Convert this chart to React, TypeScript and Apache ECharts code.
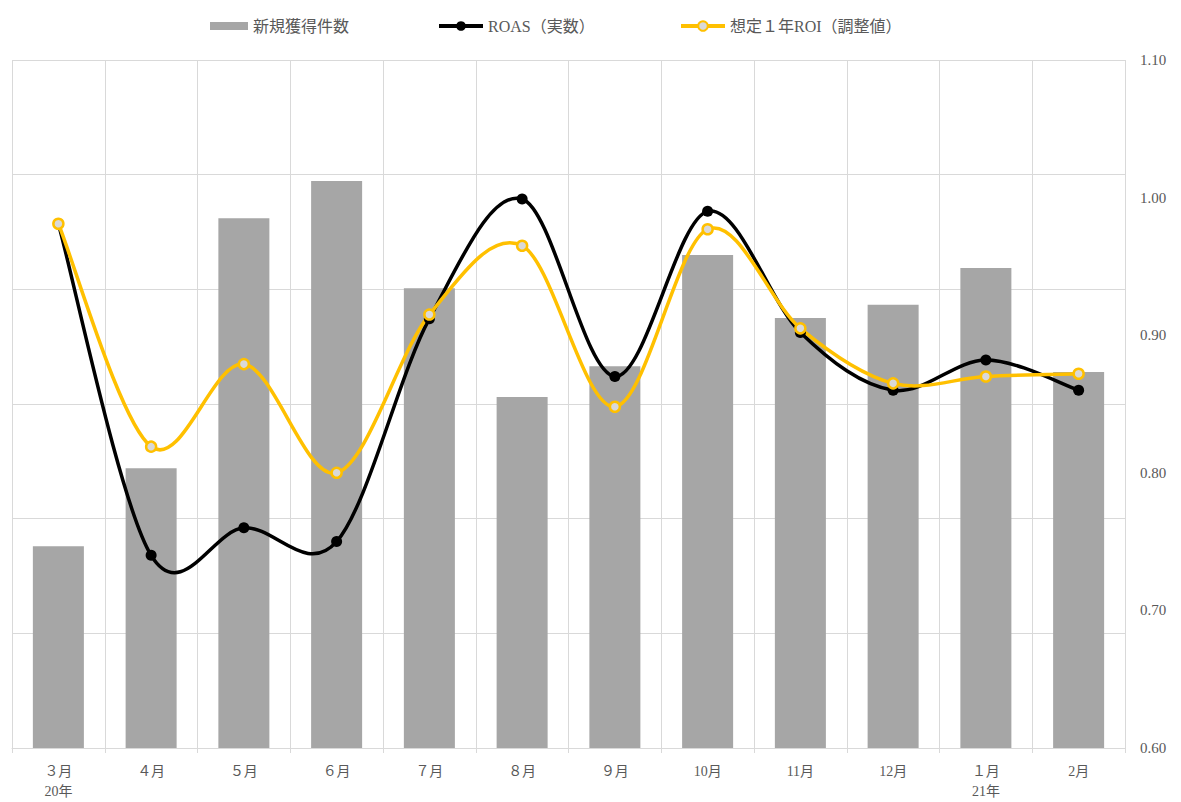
import React, { useEffect, useRef } from "react";
import * as echarts from "echarts";

const categories = ["３月\n20年", "４月", "５月", "６月", "７月", "８月", "９月", "10月", "11月", "12月", "１月\n21年", "2月"];
const newAcquisitions = [352, 488, 924, 989, 802, 612, 666, 860, 750, 773, 837, 656];
const roasActual = [0.981, 0.74, 0.76, 0.75, 0.912, 0.999, 0.87, 0.99, 0.902, 0.86, 0.882, 0.86];
const roiEstimated = [0.981, 0.819, 0.879, 0.8, 0.915, 0.965, 0.848, 0.977, 0.905, 0.865, 0.87, 0.872];
const legendNames = ["新規獲得件数", "ROAS（実数）", "想定１年ROI（調整値）"];

const FONT = "'Liberation Serif', 'DejaVu Serif', 'Noto Sans CJK JP', serif";
const TEXT = "#595959";
const GRID = "#d9d9d9";
const BAR = "#a6a6a6";
const GOLD = "#ffc000";

// Excel-like smoothed segment (Catmull-Rom style control points)
function splineSeries(values: number[], color: string, z: number) {
  return {
    type: "custom",
    yAxisIndex: 1,
    silent: true,
    z,
    data: values.map((v, i) => [i, v]),
    encode: { x: 0, y: 1 },
    renderItem: (params: any, api: any) => {
      const i = params.dataIndex;
      const n = values.length;
      if (i >= n - 1) return { type: "group", children: [] };
      const P = (k: number) => {
        const kk = Math.max(0, Math.min(n - 1, k));
        return api.coord([kk, values[kk]]);
      };
      const p0 = i === 0 ? P(i) : P(i - 1);
      const p1 = P(i);
      const p2 = P(i + 1);
      const p3 = i + 2 > n - 1 ? P(i + 1) : P(i + 2);
      const t = 1 / 6;
      return {
        type: "bezierCurve",
        shape: {
          x1: p1[0],
          y1: p1[1],
          x2: p2[0],
          y2: p2[1],
          cpx1: p1[0] + (p2[0] - p0[0]) * t,
          cpy1: p1[1] + (p2[1] - p0[1]) * t,
          cpx2: p2[0] - (p3[0] - p1[0]) * t,
          cpy2: p2[1] - (p3[1] - p1[1]) * t,
        },
        style: { stroke: color, lineWidth: 3.5, fill: "none", lineCap: "round" },
      };
    },
  };
}

export default function App() {
  const ref = useRef<HTMLDivElement>(null);
  useEffect(() => {
    document.body.style.margin = "0";
    if (!ref.current) return;
    const chart = echarts.init(ref.current, undefined, { renderer: "svg" });
    const legendText = { fontFamily: FONT, color: TEXT, fontSize: 16 };
    chart.setOption({
      animation: false,
      backgroundColor: "#ffffff",
      textStyle: { fontFamily: FONT, color: TEXT },
      legend: [
        {
          top: 13,
          left: 205,
          itemWidth: 38,
          itemHeight: 8,
          itemGap: 8,
          textStyle: legendText,
          data: [{ name: legendNames[0], icon: "rect", itemStyle: { color: BAR } }],
        },
        {
          top: 13,
          left: 432,
          itemWidth: 44,
          itemHeight: 12,
          textStyle: legendText,
          data: [{ name: legendNames[1], lineStyle: { opacity: 1, width: 4, color: "#000000" } }],
        },
        {
          top: 13,
          left: 674,
          itemWidth: 44,
          itemHeight: 12,
          textStyle: legendText,
          data: [{ name: legendNames[2], lineStyle: { opacity: 1, width: 4, color: GOLD } }],
        },
      ],
      grid: { left: 12, right: 56, top: 60, bottom: 54, outerBoundsMode: "none", containLabel: false },
      xAxis: {
        type: "category",
        data: categories,
        boundaryGap: true,
        axisLine: { show: true, lineStyle: { color: GRID, width: 1 } },
        axisTick: { show: true, length: 5, lineStyle: { color: GRID } },
        splitLine: { show: true, lineStyle: { color: GRID, width: 1 } },
        axisLabel: { color: TEXT, fontSize: 14, fontFamily: FONT, margin: 13, lineHeight: 20 },
      },
      yAxis: [
        {
          type: "value",
          min: 0,
          max: 1200,
          interval: 200,
          axisLabel: { show: false },
          axisLine: { show: false },
          axisTick: { show: false },
          splitLine: { show: true, lineStyle: { color: GRID, width: 1 } },
        },
        {
          type: "value",
          position: "right",
          min: 0.6,
          max: 1.1,
          interval: 0.1,
          axisLine: { show: false },
          axisTick: { show: false },
          splitLine: { show: false },
          axisLabel: {
            color: TEXT,
            fontSize: 15,
            fontFamily: FONT,
            margin: 15,
            formatter: (v: number) => v.toFixed(2),
          },
        },
      ],
      series: [
        {
          name: legendNames[0],
          type: "bar",
          yAxisIndex: 0,
          data: newAcquisitions,
          barWidth: "55%",
          itemStyle: { color: BAR },
          z: 1,
        },
        splineSeries(roasActual, "#000000", 2),
        splineSeries(roiEstimated, GOLD, 3),
        {
          name: legendNames[1],
          type: "line",
          yAxisIndex: 1,
          data: roasActual,
          symbol: "circle",
          symbolSize: 11,
          lineStyle: { color: "#000000", width: 3.5, opacity: 0 },
          itemStyle: { color: "#000000" },
          z: 4,
        },
        {
          name: legendNames[2],
          type: "line",
          yAxisIndex: 1,
          data: roiEstimated,
          symbol: "circle",
          symbolSize: 10,
          lineStyle: { color: GOLD, width: 3.5, opacity: 0 },
          itemStyle: { color: "#d9d9d9", borderColor: GOLD, borderWidth: 2.5 },
          z: 5,
        },
      ],
    });
    return () => chart.dispose();
  }, []);
  return <div ref={ref} style={{ width: 1181, height: 802 }} />;
}
